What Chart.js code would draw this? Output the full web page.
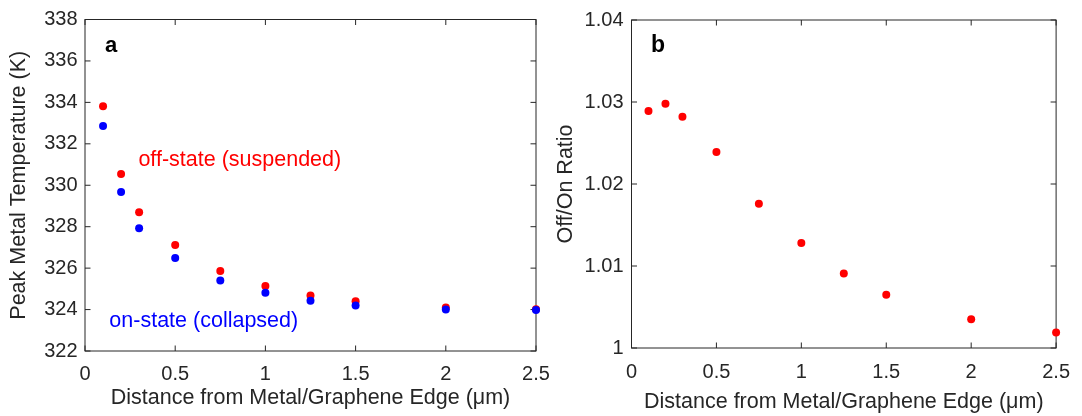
<!DOCTYPE html>
<html>
<head>
<meta charset="utf-8">
<script src="https://cdn.jsdelivr.net/npm/chart.js@4.4.0/dist/chart.umd.min.js"></script>
<style>
  html, body { margin: 0; padding: 0; background: #fff; }
  #wrap { position: relative; width: 1082px; height: 416px; }
  #wrap canvas { position: absolute; left: 0; top: 0; }
</style>
</head>
<body>
<div id="wrap">
  <canvas id="tempChart" width="1082" height="416"></canvas>
  <canvas id="ratioChart" width="1082" height="416"></canvas>
</div>
<script>
// distance from metal/graphene edge (um)
const distance = [0.1, 0.2, 0.3, 0.5, 0.75, 1, 1.25, 1.5, 2, 2.5];
// peak metal temperature (K)
const offState = [333.81, 330.54, 328.70, 327.12, 325.86, 325.14, 324.68, 324.40, 324.10, 324.02];
const onState  = [332.86, 329.67, 327.92, 326.49, 325.40, 324.81, 324.43, 324.20, 324.00, 323.98];
// off/on ratio
const ratio = [1.0289, 1.0298, 1.0282, 1.0239, 1.0176, 1.0128, 1.0091, 1.0065, 1.0035, 1.0019];

const xTicks = [0, 0.5, 1, 1.5, 2, 2.5];
const xTickLabels = ['0', '0.5', '1', '1.5', '2', '2.5'];
const tempTicks = [322, 324, 326, 328, 330, 332, 334, 336, 338];
const tempTickLabels = ['322', '324', '326', '328', '330', '332', '334', '336', '338'];
const ratioTicks = [1, 1.01, 1.02, 1.03, 1.04];
const ratioTickLabels = ['1', '1.01', '1.02', '1.03', '1.04'];

const FONT = "'Liberation Sans', Arial, sans-serif";
const INK = '#262626';
const TICK = 5.5;

// box round the plot area with inward ticks on all four sides
const frame = {
    id: 'frame',
    beforeDatasetsDraw(chart) {
        const { ctx, chartArea: a, scales: { x, y } } = chart;
        ctx.save();
        ctx.strokeStyle = INK;
        ctx.lineWidth = 1;
        ctx.strokeRect(a.left, a.top, a.right - a.left, a.bottom - a.top);
        ctx.beginPath();
        x.ticks.forEach(t => {
            const px = x.getPixelForValue(t.value);
            ctx.moveTo(px, a.bottom); ctx.lineTo(px, a.bottom - TICK);
            ctx.moveTo(px, a.top);    ctx.lineTo(px, a.top + TICK);
        });
        y.ticks.forEach(t => {
            const py = y.getPixelForValue(t.value);
            ctx.moveTo(a.left, py);  ctx.lineTo(a.left + TICK, py);
            ctx.moveTo(a.right, py); ctx.lineTo(a.right - TICK, py);
        });
        ctx.stroke();
        ctx.restore();
    }
};

// text notes: panel letter (area-relative) and data-anchored labels
const notes = {
    id: 'notes',
    afterDatasetsDraw(chart, args, opts) {
        const { ctx, chartArea: a, scales: { x, y } } = chart;
        ctx.save();
        ctx.textBaseline = 'alphabetic';
        ctx.textAlign = 'left';
        (opts.items || []).forEach(n => {
            ctx.fillStyle = n.color;
            ctx.font = n.font;
            const px = n.data ? x.getPixelForValue(n.x) : a.left + n.x;
            const py = n.data ? y.getPixelForValue(n.y) : a.top + n.y;
            ctx.fillText(n.text, px, py);
        });
        ctx.restore();
    }
};

function fixedTicks(values, labels) {
    return {
        afterBuildTicks: s => { s.ticks = values.map(v => ({ value: v })); },
        ticks: {
            color: INK, font: { family: FONT, size: 20 },
            callback: v => labels[values.findIndex(t => Math.abs(t - v) < 1e-9)]
        }
    };
}

function makeChart(id, cfg) {
    const xt = fixedTicks(xTicks, xTickLabels);
    const yt = fixedTicks(cfg.yTicks, cfg.yLabels);
    return new Chart(document.getElementById(id), {
        type: 'scatter',
        data: { datasets: cfg.datasets },
        options: {
            responsive: false, animation: false, devicePixelRatio: 1,
            layout: { padding: cfg.padding },
            plugins: { legend: { display: false }, tooltip: { enabled: false }, notes: { items: cfg.notes } },
            scales: {
                x: {
                    type: 'linear', min: 0, max: 2.5,
                    afterBuildTicks: xt.afterBuildTicks,
                    afterFit: s => { s.height = cfg.xHeight; },
                    grid: { display: false, drawTicks: false }, border: { display: false },
                    ticks: { ...xt.ticks, padding: cfg.xPad, maxRotation: 0, autoSkip: false },
                    title: { display: true, text: 'Distance from Metal/Graphene Edge (μm)', color: INK,
                             font: { family: FONT, size: 21.5 }, padding: { top: 0, bottom: cfg.xTitlePad } }
                },
                y: {
                    type: 'linear', min: cfg.yMin, max: cfg.yMax,
                    afterBuildTicks: yt.afterBuildTicks,
                    afterFit: s => { s.width = cfg.yWidth; },
                    grid: { display: false, drawTicks: false }, border: { display: false },
                    ticks: { ...yt.ticks, padding: cfg.yPad, autoSkip: false },
                    title: { display: true, text: cfg.yTitle, color: INK,
                             font: { family: FONT, size: 21.5 }, padding: { top: cfg.yTitlePad, bottom: 0 } }
                }
            }
        },
        plugins: [frame, notes]
    });
}

const pts = (ys) => distance.map((d, i) => ({ x: d, y: ys[i] }));
const dot = (ys, color) => ({
    data: pts(ys), backgroundColor: color, borderColor: color, borderWidth: 0,
    pointRadius: 4, pointHoverRadius: 4, clip: false
});

makeChart('tempChart', {
    padding: { left: 0, top: 15, right: 1082 - 536, bottom: 0 },
    yWidth: 85, xHeight: 416 - 351, xPad: 11, yPad: 7.5, xTitlePad: 4.6, yTitlePad: 6.3,
    yMin: 322, yMax: 338, yTicks: tempTicks, yLabels: tempTickLabels,
    yTitle: 'Peak Metal Temperature (K)',
    datasets: [dot(onState, '#0000ff'), dot(offState, '#ff0000')],
    notes: [
        { text: 'a', x: 20, y: 32.5, color: '#000', font: `bold 22px ${FONT}` },
        { text: 'off-state (suspended)', data: true, x: 0.296, y: 330.95, color: '#ff0000', font: `21.5px ${FONT}` },
        { text: 'on-state (collapsed)', data: true, x: 0.135, y: 323.14, color: '#0000ff', font: `21.5px ${FONT}` }
    ]
});

makeChart('ratioChart', {
    padding: { left: 540, top: 16, right: 1082 - 1066, bottom: 0 },
    yWidth: 91.5, xHeight: 416 - 348, xPad: 12, yPad: 8, xTitlePad: 1.2, yTitlePad: 13.1,
    yMin: 1, yMax: 1.04, yTicks: ratioTicks, yLabels: ratioTickLabels,
    yTitle: 'Off/On Ratio',
    datasets: [dot(ratio, '#ff0000')],
    notes: [
        { text: 'b', x: 19.5, y: 32, color: '#000', font: `bold 23px ${FONT}` }
    ]
});
</script>
</body>
</html>
